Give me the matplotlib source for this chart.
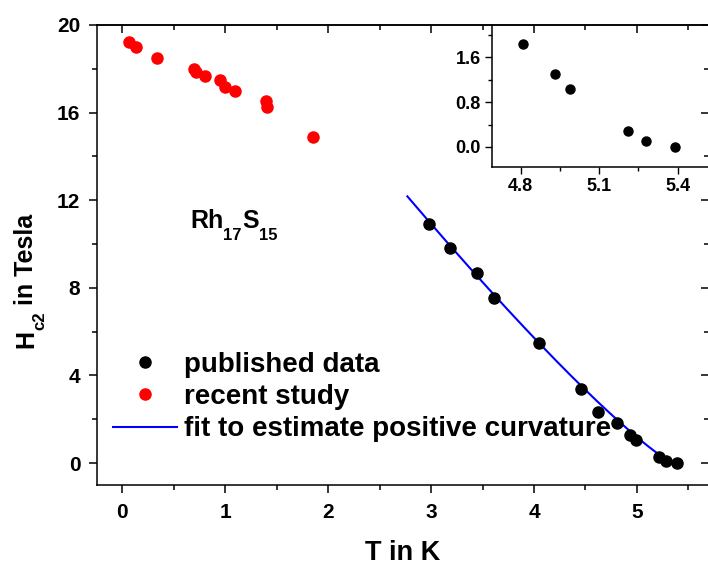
import numpy as np
import matplotlib
matplotlib.use("Agg")
import matplotlib.pyplot as plt
from matplotlib.ticker import MultipleLocator, FormatStrFormatter

# published Hc2(T) data
pub_T = [2.98, 3.18, 3.45, 3.61, 4.05, 4.46, 4.62, 4.81, 4.93, 4.99, 5.21, 5.28, 5.39]
pub_H = [10.9, 9.8, 8.66, 7.52, 5.47, 3.37, 2.32, 1.84, 1.30, 1.04, 0.28, 0.10, 0.0]

# recent study, low temperature points
new_T = [0.07, 0.13, 0.34, 0.70, 0.72, 0.80, 0.95, 1.00, 1.10, 1.40, 1.41, 1.85]
new_H = [19.21, 18.98, 18.5, 17.99, 17.87, 17.69, 17.5, 17.18, 17.0, 16.52, 16.27, 14.9]

# fit Hc2 = A * (1 - T/Tc)^n
FIT_AMP = 28.5
FIT_TC = 5.35
FIT_EXP = 1.166
FIT_TMIN = 2.77

INSET_TMIN = 4.8

plt.rcParams['font.family'] = 'Liberation Sans'
plt.rcParams['font.weight'] = 'bold'
plt.rcParams['axes.linewidth'] = 1.1

BIG = 18
SUB = 12
SUB_RAISE = 4  # points the subscript is pulled back up towards the baseline

fig = plt.figure(figsize=(7.08, 5.65), dpi=100)
ax = fig.add_axes([97 / 708, 80 / 565, 612 / 708, 460 / 565])

fit_T = np.linspace(FIT_TMIN, FIT_TC, 200)
fit_H = FIT_AMP * (1 - fit_T / FIT_TC) ** FIT_EXP

ax.plot(pub_T, pub_H, 'o', color='black', markersize=8, label='published data', zorder=3)
ax.plot(new_T, new_H, 'o', color='#ff0000', markersize=8, label='recent study', zorder=3)
ax.plot(fit_T, fit_H, '-', color='#0000ff', linewidth=1.5,
        label='fit to estimate positive curvature', zorder=2)

ax.set_xlim(-0.245, 5.7)
ax.set_ylim(-1.0, 20.0)
ax.xaxis.set_major_locator(MultipleLocator(1))
ax.xaxis.set_minor_locator(MultipleLocator(0.5))
ax.yaxis.set_major_locator(MultipleLocator(4))
ax.yaxis.set_minor_locator(MultipleLocator(2))
ax.tick_params(which='both', direction='out', width=1.1, labelsize=15)
ax.tick_params(which='major', length=6, pad=6)
ax.tick_params(which='minor', length=3.5)
ax.tick_params(axis='x', which='major', pad=7)

# mirrored inward ticks on top and right
top = ax.secondary_xaxis('top')
top.xaxis.set_major_locator(MultipleLocator(1))
top.xaxis.set_minor_locator(MultipleLocator(0.5))
top.tick_params(which='both', direction='in', width=1.1, labeltop=False)
top.tick_params(which='major', length=6)
top.tick_params(which='minor', length=3.5)
right = ax.secondary_yaxis('right')
right.yaxis.set_major_locator(MultipleLocator(4))
right.yaxis.set_minor_locator(MultipleLocator(2))
right.tick_params(which='both', direction='in', width=1.1, labelright=False)
right.tick_params(which='major', length=6)
right.tick_params(which='minor', length=3.5)

ax.set_xlabel('T in K', fontsize=19.5, fontweight='bold', labelpad=13)

# y label built from pieces so the subscript sits fully below the baseline
h_txt = ax.annotate('H', xy=(33 / 708, 1 - 348 / 565), xycoords='figure fraction',
                    rotation=90, rotation_mode='anchor', ha='left', va='baseline',
                    fontsize=BIG, annotation_clip=False)
c2_txt = ax.annotate('c2', xy=(1, 1), xycoords=h_txt, xytext=(-SUB_RAISE, 0),
                     textcoords='offset points', rotation=90, ha='left', va='bottom',
                     fontsize=SUB, annotation_clip=False)
ax.annotate(' in Tesla', xy=(0, 1), xycoords=(h_txt, c2_txt), rotation=90,
            ha='left', va='bottom', fontsize=BIG, annotation_clip=False)

# compound label, same subscript style
rh_txt = ax.text(0.66, 10.73, 'Rh', fontsize=BIG)
n17 = ax.annotate('17', xy=(1, 0), xycoords=rh_txt, xytext=(0, SUB_RAISE),
                  textcoords='offset points', ha='left', va='top', fontsize=SUB)
s_txt = ax.annotate('S', xy=(1, 0), xycoords=(n17, rh_txt), ha='left', va='bottom',
                    fontsize=BIG)
ax.annotate('15', xy=(1, 0), xycoords=s_txt, xytext=(0, SUB_RAISE),
            textcoords='offset points', ha='left', va='top', fontsize=SUB)

ax.legend(loc='upper left', bbox_to_anchor=(113 / 708, 1 - 352 / 565),
          bbox_transform=fig.transFigure, frameon=False, fontsize=20,
          handlelength=2.3, handletextpad=0.25, labelspacing=0.22,
          borderpad=0, borderaxespad=0, numpoints=1, markerscale=1.0)

# inset: zoom on the points near Tc
ins = fig.add_axes([492 / 708, 398 / 565, 217 / 708, 142 / 565])
ins.patch.set_alpha(0)
in_T = [t for t in pub_T if t >= INSET_TMIN]
in_H = [h for t, h in zip(pub_T, pub_H) if t >= INSET_TMIN]
ins.plot(in_T, in_H, 'o', color='black', markersize=6.5)
ins.set_xlim(4.69, 5.52)
ins.set_ylim(-0.356, 2.17)
ins.xaxis.set_major_locator(MultipleLocator(0.3))
ins.xaxis.set_minor_locator(MultipleLocator(0.15))
ins.yaxis.set_major_locator(MultipleLocator(0.8))
ins.yaxis.set_minor_locator(MultipleLocator(0.4))
ins.xaxis.set_major_formatter(FormatStrFormatter('%.1f'))
ins.yaxis.set_major_formatter(FormatStrFormatter('%.1f'))
ins.tick_params(which='both', direction='out', width=1.0, labelsize=13)
ins.tick_params(which='major', length=5, pad=3)
ins.tick_params(which='minor', length=3)
ins.spines['top'].set_visible(False)
ins.spines['right'].set_visible(False)

fig.savefig('out.png', dpi=100)
